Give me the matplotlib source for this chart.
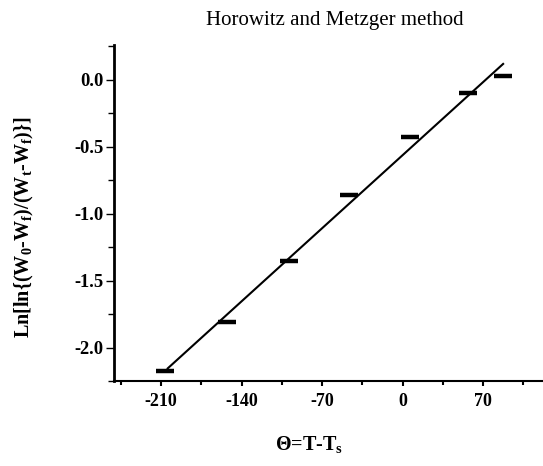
import matplotlib
matplotlib.use("Agg")
import matplotlib.pyplot as plt
from matplotlib.ticker import FixedLocator

# Data
theta = [-207, -153, -99, -47, 6, 57, 87]
lnln = [-2.174, -1.809, -1.351, -0.859, -0.430, -0.097, 0.030]
fit_x = [-205, 88]
fit_y = [-2.161, 0.124]
xticks = [-210, -140, -70, 0, 70]
yticks = [0.0, -0.5, -1.0, -1.5, -2.0]

plt.rcParams['font.family'] = ['Liberation Serif', 'DejaVu Serif']
plt.rcParams['mathtext.fontset'] = 'custom'
plt.rcParams['mathtext.rm'] = 'Liberation Serif'
plt.rcParams['mathtext.bf'] = 'Liberation Serif:bold'

fig = plt.figure(figsize=(5.43, 4.66), dpi=100)
ax = fig.add_axes([0.21, 0.1824, 0.79, 0.721])

ax.plot(fit_x, fit_y, color='black', lw=1.5, solid_capstyle='butt', zorder=2)
ax.plot(theta, lnln, linestyle='none', marker='_', markersize=13,
        markeredgewidth=3.2, color='black', zorder=3)

ax.set_xlim(-251, 122)
ax.set_ylim(-2.25, 0.26)

ax.xaxis.set_major_locator(FixedLocator(xticks))
ax.xaxis.set_minor_locator(FixedLocator([-245, -175, -105, -35, 35, 105]))
ax.yaxis.set_major_locator(FixedLocator(yticks))
ax.yaxis.set_minor_locator(FixedLocator([-2.25, -1.75, -1.25, -0.75, -0.25, 0.25]))
ax.set_xticklabels([str(v) for v in xticks])
ax.set_yticklabels([f"{v:.1f}" for v in yticks])

for s in ['top', 'right']:
    ax.spines[s].set_visible(False)
ax.spines['left'].set_linewidth(2)
ax.spines['bottom'].set_linewidth(1.5)

ax.tick_params(axis='x', which='major', direction='out', length=3.5, width=1.5,
               labelsize=13, pad=5)
ax.tick_params(axis='x', which='minor', direction='out', length=3, width=1.5)
ax.tick_params(axis='y', which='major', direction='out', length=6, width=1,
               labelsize=13.3, pad=1.5)
ax.tick_params(axis='y', which='minor', direction='out', length=4, width=1)
for lab in ax.get_xticklabels() + ax.get_yticklabels():
    lab.set_fontweight('bold')

fig.text(334.5 / 543, 1 - 20 / 466, 'Horowitz and Metzger method', ha='center',
         va='center', fontsize=15)
fig.text(309 / 543, 1 - 445 / 466, r'$\mathbf{\Theta}$=T-T$_\mathbf{s}$',
         ha='center', va='center', fontsize=14.5, fontweight='bold')
fig.text(24 / 543, 1 - 227 / 466,
         r'Ln[ln{(W$_\mathbf{0}$-W$_\mathbf{f}$)/(W$_\mathbf{t}$-W$_\mathbf{f}$)}]',
         ha='center', va='center', rotation=90, fontsize=14.5, fontweight='bold')

fig.savefig('out.png', dpi=100)
